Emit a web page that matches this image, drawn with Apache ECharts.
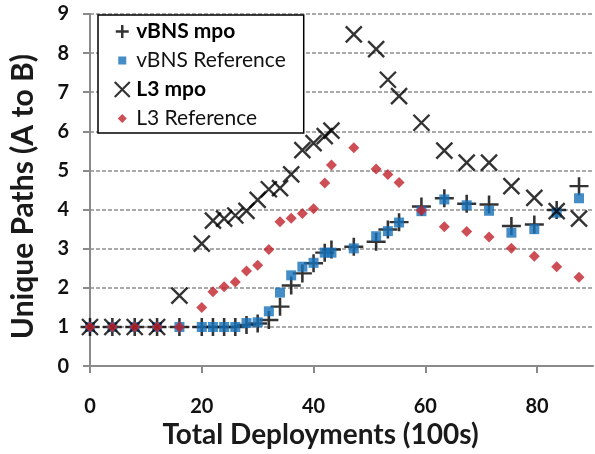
<!DOCTYPE html>
<html>
<head>
<meta charset="utf-8">
<script src="https://cdn.jsdelivr.net/npm/echarts@6/dist/echarts.min.js"></script>
<style>
html,body{margin:0;padding:0;background:#fff;}
#chart{width:595px;height:454px;}
</style>
</head>
<body>
<div id="chart"></div>
<script>
// Data
const deployments = [0,4,8,12,16,20,22,24,26,28,30,32,34,36,38,40,42,43.2,47.2,51.2,53.3,55.3,59.3,63.4,67.4,71.4,75.4,79.5,83.5,87.5];
const vbnsMpo = [1,1,1,1,1,1,1,1,1,1.05,1.09,1.18,1.52,2.06,2.37,2.63,2.9,2.98,3.05,3.18,3.49,3.68,4.08,4.29,4.15,4.13,3.58,3.62,3.99,4.6];
const vbnsRef = [1,1,1,1,1,1,1,1,1,1.1,1.12,1.4,1.88,2.32,2.54,2.64,2.9,2.9,3.01,3.32,3.45,3.67,3.96,4.26,4.11,3.97,3.41,3.5,3.92,4.29];
const l3Mpo = [1,1,1,1,1.8,3.13,3.72,3.77,3.85,3.97,4.25,4.52,4.55,4.9,5.52,5.7,5.88,6.02,8.48,8.1,7.32,6.9,6.22,5.51,5.2,5.2,4.6,4.3,3.96,3.77];
const l3Ref = [1,1,1,1,1,1.5,1.9,2.03,2.15,2.43,2.58,2.98,3.69,3.78,3.9,4.02,4.68,5.14,5.58,5.04,4.9,4.69,3.98,3.56,3.44,3.3,3.01,2.81,2.54,2.27];
const seriesNames = ['vBNS mpo','vBNS Reference','L3 mpo','L3 Reference'];
const xTicks = [0,20,40,60,80];
const xTitle = 'Total Deployments (100s)';
const yTitle = 'Unique Paths (A to B)';

const pairs = ys => deployments.map((x,i) => [x, ys[i]]);
const FONT = 'Lato';
const BLUE = '#1570b8';
const RED = '#c0222b';
const PLUS = 'path://M0,10L20,10M10,0L10,20';
const CROSS = 'path://M0,0L20,20M20,0L0,20';

const chart = echarts.init(document.getElementById('chart'), null, {renderer:'canvas'});
chart.setOption({
  animation:false,
  backgroundColor:'#fff',
  textStyle:{fontFamily:FONT},
  grid:{left:88, right:2, top:14, bottom:87, containLabel:false},
  legend:{
    orient:'vertical', left:98, top:15,
    padding:[6,18,4,14], itemGap:8, itemWidth:18, itemHeight:18,
    borderColor:'#000', borderWidth:1.5, backgroundColor:'#fff',
    textStyle:{fontFamily:FONT, fontSize:21, color:'#111'},
    selectedMode:false,
    data:[
      {name:seriesNames[0], icon:'path://M0,0M18,18M2.5,9L15.5,9M9,2.5L9,15.5',
       itemStyle:{color:'#000', borderColor:'#000', borderWidth:2.5}, textStyle:{fontWeight:'bold', color:'#000'}},
      {name:seriesNames[1], icon:'path://M0,0M18,18M5,5L13,5L13,13L5,13Z',
       itemStyle:{color:BLUE, borderWidth:0}},
      {name:seriesNames[2], icon:'path://M0,0M18,18M1.5,1.5L16.5,16.5M16.5,1.5L1.5,16.5',
       itemStyle:{color:'#000', borderColor:'#000', borderWidth:2.2}, textStyle:{fontWeight:'bold', color:'#000'}},
      {name:seriesNames[3], icon:'path://M0,0M18,18M9,4.5L13.5,9L9,13.5L4.5,9Z',
       itemStyle:{color:RED, borderWidth:0}}
    ]
  },
  xAxis:{
    type:'value', min:0, max:90, interval:20,
    name:xTitle, nameLocation:'middle', nameGap:51,
    nameTextStyle:{fontFamily:FONT, fontSize:28, fontWeight:'bold', color:'#1a1a1a', padding:[0,42,0,0]},
    axisLine:{show:true, lineStyle:{color:'#8a8a8a', width:2}},
    axisTick:{show:true, length:7, lineStyle:{color:'#8a8a8a', width:2}, customValues:xTicks},
    axisLabel:{fontFamily:FONT, fontSize:20, fontWeight:'bold', color:'#111', margin:30, customValues:xTicks},
    splitLine:{show:false}
  },
  yAxis:{
    type:'value', min:0, max:9, interval:1,
    name:yTitle, nameLocation:'middle', nameGap:52,
    nameTextStyle:{fontFamily:FONT, fontSize:30, fontWeight:'bold', color:'#1a1a1a', padding:[0,13,0,0]},
    axisLine:{show:true, lineStyle:{color:'#8a8a8a', width:2}},
    axisTick:{show:true, length:7, lineStyle:{color:'#8a8a8a', width:2}},
    axisLabel:{fontFamily:FONT, fontSize:20, fontWeight:'bold', color:'#111', margin:21},
    splitLine:{show:true, lineStyle:{color:'#8f8f8f', width:1.5, type:[4,2]}}
  },
  series:[
    {name:seriesNames[0], type:'scatter', data:pairs(vbnsMpo), symbol:PLUS, symbolSize:[19,18],
     itemStyle:{color:'#000', borderColor:'#000', borderWidth:2.5}, emphasis:{disabled:true}},
    {name:seriesNames[1], type:'scatter', data:pairs(vbnsRef), symbol:'rect', symbolSize:10,
     itemStyle:{color:BLUE}, emphasis:{disabled:true}},
    {name:seriesNames[2], type:'scatter', data:pairs(l3Mpo), symbol:CROSS, symbolSize:16,
     itemStyle:{color:'#000', borderColor:'#000', borderWidth:2.4}, emphasis:{disabled:true}},
    {name:seriesNames[3], type:'scatter', data:pairs(l3Ref), symbol:'diamond', symbolSize:[11,11],
     itemStyle:{color:RED}, emphasis:{disabled:true}}
  ]
});
</script>
</body>
</html>
